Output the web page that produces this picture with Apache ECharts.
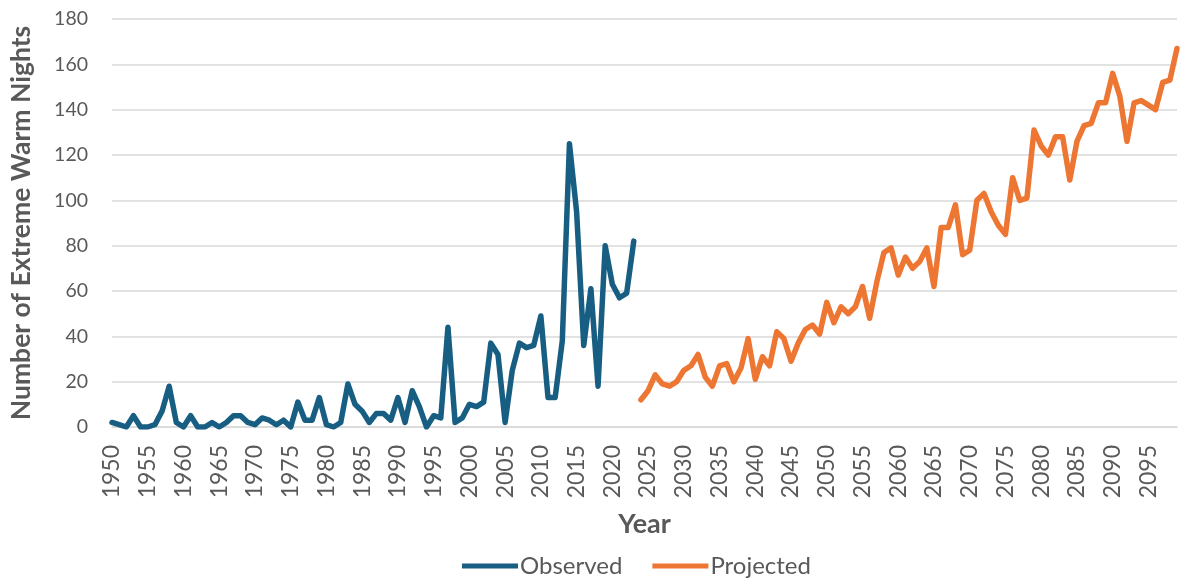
<!DOCTYPE html>
<html>
<head>
<meta charset="utf-8">
<script src="https://cdn.jsdelivr.net/npm/echarts@6/dist/echarts.min.js"></script>
<style>
html,body{margin:0;padding:0;background:#fff;}
#chart{width:1180px;height:583px;}
</style>
</head>
<body>
<div id="chart"></div>
<script>
const startYear = 1950;
const endYear = 2099;
const observed = [
  2, 1, 0, 5, 0, 0, 1, 7, 18, 2,        // 1950-1959
  0, 5, 0, 0, 2, 0, 2, 5, 5, 2,         // 1960-1969
  1, 4, 3, 1, 3, 0, 11, 3, 3, 13,       // 1970-1979
  1, 0, 2, 19, 10, 7, 2, 6, 6, 3,       // 1980-1989
  13, 2, 16, 9, 0, 5, 4, 44, 2, 4,      // 1990-1999
  10, 9, 11, 37, 32, 2, 25, 37, 35, 36, // 2000-2009
  49, 13, 13, 38, 125, 95, 36, 61, 18, 80, // 2010-2019
  63, 57, 59, 82                        // 2020-2023
];
const projectedStart = 2024;
const projected = [
  12, 16, 23, 19, 18, 20,               // 2024-2029
  25, 27, 32, 22, 18, 27, 28, 20, 26, 39, // 2030-2039
  21, 31, 27, 42, 39, 29, 37, 43, 45, 41, // 2040-2049
  55, 46, 53, 50, 53, 62, 48, 64, 77, 79, // 2050-2059
  67, 75, 70, 73, 79, 62, 88, 88, 98, 76, // 2060-2069
  78, 100, 103, 95, 89, 85, 110, 100, 101, 131, // 2070-2079
  124, 120, 128, 128, 109, 126, 133, 134, 143, 143, // 2080-2089
  156, 146, 126, 143, 144, 142, 140, 152, 153, 167  // 2090-2099
];
const yTicks = [0, 20, 40, 60, 80, 100, 120, 140, 160, 180];

const years = [];
for (let y = startYear; y <= endYear; y++) years.push(String(y));
const obsData = years.map((y, i) => i < observed.length ? observed[i] : null);
const projOffset = projectedStart - startYear;
const projData = years.map((y, i) => (i >= projOffset && i - projOffset < projected.length) ? projected[i - projOffset] : null);

const textColor = '#595959';
const chart = echarts.init(document.getElementById('chart'), null, {renderer: 'canvas'});
chart.setOption({
  animation: false,
  backgroundColor: '#fff',
  textStyle: {fontFamily: 'Lato'},
  grid: {left: 107, right: 3, top: 19, bottom: 156, containLabel: false},
  xAxis: {
    type: 'category',
    data: years,
    boundaryGap: false,
    axisLine: {lineStyle: {color: '#d9d9d9', width: 1.5}},
    axisTick: {show: false},
    axisLabel: {
      rotate: 90,
      color: textColor,
      fontSize: 23,
      fontFamily: 'Lato',
      margin: 18,
      interval: (idx) => idx % 5 === 0
    },
    name: 'Year',
    nameLocation: 'middle',
    nameGap: 84,
    nameTextStyle: {color: textColor, fontSize: 27, fontWeight: 'bold', fontFamily: 'Lato'}
  },
  yAxis: {
    type: 'value',
    min: yTicks[0],
    max: yTicks[yTicks.length - 1],
    interval: yTicks[1] - yTicks[0],
    axisLine: {show: false},
    axisTick: {show: false},
    splitLine: {lineStyle: {color: '#d9d9d9', width: 1.5}},
    axisLabel: {color: textColor, fontSize: 19.5, fontFamily: 'Lato', margin: 24},
    name: 'Number of Extreme Warm Nights',
    nameLocation: 'middle',
    nameGap: 77,
    nameRotate: 90,
    nameTextStyle: {color: textColor, fontSize: 26.5, fontWeight: 'bold', fontFamily: 'Lato'}
  },
  legend: {
    bottom: 0,
    left: 457,
    itemWidth: 56,
    itemHeight: 5,
    itemGap: 30,
    icon: 'rect',
    textStyle: {color: textColor, fontSize: 24, fontFamily: 'Lato', padding: [0, 0, 0, -3]},
    data: ['Observed', 'Projected']
  },
  series: [
    {
      name: 'Observed',
      type: 'line',
      data: obsData,
      showSymbol: false,
      symbol: 'none',
      connectNulls: false,
      lineStyle: {color: '#175E82', width: 5.5, join: 'round', cap: 'round'},
      itemStyle: {color: '#175E82'}
    },
    {
      name: 'Projected',
      type: 'line',
      data: projData,
      showSymbol: false,
      symbol: 'none',
      connectNulls: false,
      lineStyle: {color: '#ED7633', width: 5.5, join: 'round', cap: 'round'},
      itemStyle: {color: '#ED7633'}
    }
  ]
});
</script>
</body>
</html>
